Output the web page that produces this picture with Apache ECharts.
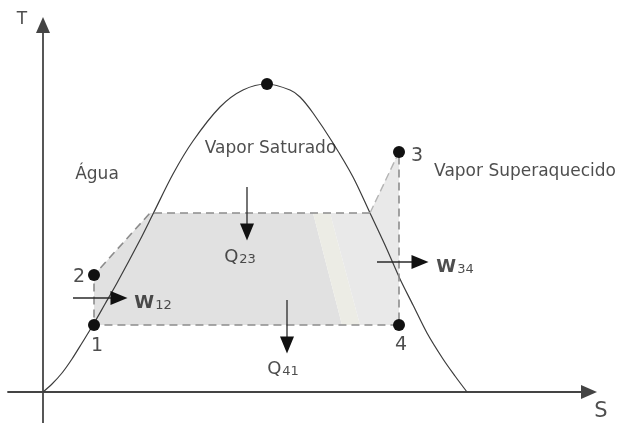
<!DOCTYPE html>
<html>
<head>
<meta charset="utf-8">
<title>Diagrama T-s</title>
<script src="https://cdn.jsdelivr.net/npm/echarts/dist/echarts.min.js"></script>
<style>
    html, body { margin: 0; padding: 0; background: #fff; }
    #main { width: 621px; height: 423px; }
</style>
</head>
<body>
<div id="main"></div>
<script>
// curva de saturação (domo)
var domeS = [0, 0.9, 1.9, 2.9, 3.9, 5.0, 6.2, 7.4, 9.7, 11.0, 13.0, 15.0, 17.7, 20.0, 22.4,
             24.7, 25.7, 27.0, 29.0, 31.0, 32.7, 34.2, 35.7, 37.0, 38.4, 40.0, 41.2, 42.4];
var domeT = [0, 0.8, 1.9, 3.3, 4.9, 6.7, 8.8, 10.9, 15.2, 17.8, 21.8, 25.1, 28.5, 30.2, 30.8,
             30.2, 29.5, 27.9, 24.9, 21.5, 17.9, 14.7, 11.3, 8.7, 5.9, 3.3, 1.6, 0];
var criticalPoint = [22.4, 30.8];

// estados do ciclo
var stateNames = ['1', '2', '3', '4'];
var stateS = [5.1, 5.1, 35.6, 35.6];
var stateT = [6.7, 11.7, 24.0, 6.7];
var stateLabelS = [5.4, 3.6, 37.4, 35.8];
var stateLabelT = [4.6, 11.5, 23.6, 4.7];

// contorno tracejado: B -> A -> 2 -> 1 -> 4 -> 3
var cycleS = [32.7, 10.7, 5.1, 5.1, 35.6, 35.6];
var cycleT = [17.9, 17.9, 11.7, 6.7, 6.7, 24.0];
// trecho B -> 3 (mais claro)
var superS = [32.7, 35.6];
var superT = [17.9, 24.0];

// areas sombreadas
var shadePolygons = [
    [[5.1, 6.7], [5.1, 11.7], [10.7, 17.9], [27.0, 17.9], [29.9, 6.7]],
    [[27.0, 17.9], [28.7, 17.9], [31.7, 6.7], [29.9, 6.7]],
    [[28.7, 17.9], [32.7, 17.9], [35.6, 24.0], [35.6, 6.7], [31.7, 6.7]]
];

// setas de calor e trabalho
var arrowNames = ['Q23', 'Q41', 'W12', 'W34'];
var arrowFrom = [[20.4, 20.5], [24.4, 9.2], [3.0, 9.4], [33.4, 13.0]];
var arrowTo = [[20.4, 16.0], [24.4, 4.7], [7.6, 9.4], [37.7, 13.0]];
var arrowLabelPos = [[19.7, 13.5], [24.0, 2.3], [11.0, 8.9], [41.2, 12.5]];

// textos das regioes e eixos
var regionNames = ['Água', 'Vapor Saturado', 'Vapor Superaquecido'];
var regionPos = [[5.4, 21.7], [22.75, 24.3], [48.2, 22.0]];
var axisNames = ['T', 'S'];
var axisNamePos = [[-2.1, 37.2], [55.8, -2.0]];

var FONT = 'DejaVu Sans';
var TEXT = '#222';
var shadeColors = ['#e1e1e1', '#ecece5', '#e9e9e9'];

function zip(xs, ys) {
    var out = [];
    for (var i = 0; i < xs.length; i++) out.push([xs[i], ys[i]]);
    return out;
}

function textSeries(names, pos, fontSize, rich) {
    return {
        type: 'scatter',
        z: 10,
        clip: false,
        symbolSize: 1,
        itemStyle: { color: 'rgba(0,0,0,0)' },
        data: names.map(function (n, i) {
            return { name: n, value: pos[i] };
        }),
        label: {
            show: true,
            position: 'inside',
            color: TEXT,
            fontFamily: FONT,
            fontSize: fontSize,
            formatter: rich ? function (p) {
                var k = p.name.charAt(0) === 'W' ? 'w' : 'm';
                return '{' + k + '|' + p.name.charAt(0) + '}{s|' + p.name.slice(1) + '}';
            } : '{b}',
            rich: rich || {}
        }
    };
}

var series = [];

// sombreado
series.push({
    type: 'custom',
    z: 1,
    data: shadePolygons.map(function (p, i) { return [p[0][0], p[0][1], i]; }),
    encode: { x: 0, y: 1 },
    renderItem: function (params, api) {
        var idx = api.value(2);
        return {
            type: 'polygon',
            shape: { points: shadePolygons[idx].map(function (pt) { return api.coord(pt); }) },
            style: { fill: shadeColors[idx] }
        };
    }
});

// domo
series.push({
    type: 'line',
    z: 3,
    data: zip(domeS, domeT),
    smooth: 0.3,
    showSymbol: false,
    lineStyle: { color: '#3c3c3c', width: 1.2 }
});

// ciclo tracejado
series.push({
    type: 'line',
    z: 4,
    data: zip(cycleS, cycleT),
    showSymbol: false,
    lineStyle: { color: '#8c8c8c', width: 1.6, type: [8, 5] }
});
series.push({
    type: 'line',
    z: 4,
    data: zip(superS, superT),
    showSymbol: false,
    lineStyle: { color: '#b4b4b4', width: 1.4, type: [8, 4] }
});

// setas
arrowNames.forEach(function (n, i) {
    var a = arrowFrom[i], b = arrowTo[i];
    var rot = Math.atan2(b[1] - a[1], b[0] - a[0]) * 180 / Math.PI - 90;
    series.push({
        type: 'line',
        z: 6,
        data: [
            { value: a, symbol: 'none' },
            { value: b, symbol: 'triangle', symbolSize: [14, 17], symbolRotate: rot }
        ],
        itemStyle: { color: '#111', opacity: 1 },
        lineStyle: { color: '#2a2a2a', width: 1.3 }
    });
});

// estados e ponto critico
series.push({
    type: 'scatter',
    z: 8,
    symbolSize: 12,
    itemStyle: { color: '#111', opacity: 1 },
    data: zip(stateS, stateT).concat([criticalPoint])
});

series.push(textSeries(stateNames, zip(stateLabelS, stateLabelT), 19));
series.push(textSeries(regionNames, regionPos, 17));
series.push(textSeries(axisNames.slice(0, 1), axisNamePos.slice(0, 1), 17));
series.push(textSeries(axisNames.slice(1), axisNamePos.slice(1), 21));
series.push(textSeries(arrowNames, arrowLabelPos, 18, {
    m: { fontFamily: FONT, fontSize: 18, color: TEXT, verticalAlign: 'bottom' },
    w: { fontFamily: FONT, fontSize: 18, fontWeight: 'bold', color: TEXT, verticalAlign: 'bottom' },
    s: { fontFamily: FONT, fontSize: 13, color: TEXT, verticalAlign: 'bottom', padding: [0, 0, 0, 1] }
}));

var chart = echarts.init(document.getElementById('main'), null, { renderer: 'canvas' });
chart.setOption({
    animation: false,
    backgroundColor: '#fff',
    grid: { left: 8, right: 32, top: 25, bottom: 0 },
    xAxis: {
        type: 'value',
        min: -3.5,
        max: 54.6,
        axisLine: {
            onZero: true,
            symbol: ['none', 'triangle'],
            symbolSize: [14, 16],
            lineStyle: { color: '#444', width: 1.8 }
        },
        axisTick: { show: false },
        axisLabel: { show: false },
        splitLine: { show: false }
    },
    yAxis: {
        type: 'value',
        min: -3.1,
        max: 36.7,
        axisLine: {
            show: true,
            onZero: true,
            symbol: ['none', 'triangle'],
            symbolSize: [14, 16],
            lineStyle: { color: '#444', width: 1.8 }
        },
        axisTick: { show: false },
        axisLabel: { show: false },
        splitLine: { show: false }
    },
    series: series
});
</script>
</body>
</html>
